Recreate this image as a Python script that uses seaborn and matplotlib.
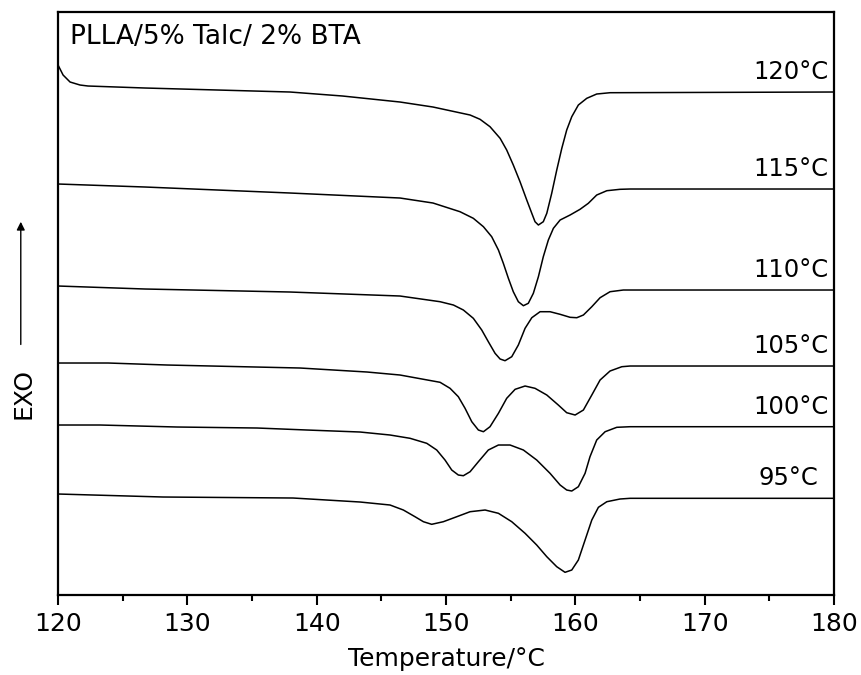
import numpy as np
import pandas as pd
import seaborn as sns
import matplotlib.pyplot as plt
from matplotlib.ticker import MultipleLocator

# DSC melting curves (arbitrary heat flow units, curves stacked)
labels = ['120°C', '115°C', '110°C', '105°C', '100°C', '95°C']

t_120 = [120.0, 120.39, 120.93, 121.70, 122.32, 126.73, 137.94, 142.0, 146.44, 148.99,
         151.86, 152.63, 153.40, 154.18, 154.69, 155.20, 155.72, 156.24, 156.63, 156.88,
         157.14, 157.52, 157.79, 158.17, 158.56, 158.95, 159.33, 159.72, 160.23, 160.88,
         161.65, 162.68, 180.0]
s_120 = [53.0, 52.0, 51.3, 51.0, 50.9, 50.7, 50.3, 49.9, 49.3, 48.8,
         48.0, 47.57, 46.83, 45.67, 44.5, 43.0, 41.33, 39.5, 38.17, 37.33,
         37.0, 37.33, 38.17, 40.17, 42.5, 44.67, 46.5, 47.83, 49.0, 49.67,
         50.1, 50.23, 50.3]

t_115 = [120.0, 126.73, 137.94, 146.44, 148.99, 151.08, 152.11, 152.89, 153.53, 154.05,
         154.43, 154.82, 155.20, 155.59, 155.98, 156.36, 156.75, 157.14, 157.52, 157.91,
         158.30, 158.82, 159.59, 160.36, 161.00, 161.65, 162.43, 163.45, 164.23, 180.0]
s_115 = [41.1, 40.8, 40.2, 39.7, 39.2, 38.33, 37.67, 36.83, 35.83, 34.5,
         33.17, 31.67, 30.33, 29.33, 28.93, 29.17, 30.17, 31.83, 33.83, 35.5,
         36.67, 37.5, 38.0, 38.57, 39.17, 40.0, 40.43, 40.57, 40.6, 40.6]

t_110 = [120.0, 126.73, 137.94, 146.44, 149.54, 150.57, 151.34, 152.11, 152.76, 153.27,
         153.79, 154.18, 154.56, 155.08, 155.59, 156.11, 156.63, 157.27, 158.04, 158.82,
         159.59, 160.11, 160.62, 161.27, 161.91, 162.68, 163.71, 180.0]
s_110 = [30.9, 30.6, 30.3, 29.9, 29.33, 29.0, 28.5, 27.67, 26.5, 25.33,
         24.17, 23.6, 23.43, 23.83, 25.0, 26.67, 27.73, 28.33, 28.33, 28.07,
         27.77, 27.73, 28.0, 28.83, 29.73, 30.33, 30.5, 30.5]

t_105 = [120.0, 123.87, 128.43, 138.71, 143.89, 146.44, 149.54, 150.31, 150.95, 151.47,
         151.99, 152.50, 152.89, 153.40, 154.05, 154.69, 155.34, 156.11, 156.88, 157.79,
         158.68, 159.33, 159.98, 160.62, 161.27, 161.91, 162.68, 163.59, 164.23, 180.0]
s_105 = [23.2, 23.2, 23.0, 22.7, 22.3, 22.0, 21.27, 20.67, 19.83, 18.67,
         17.33, 16.5, 16.33, 16.83, 18.17, 19.67, 20.57, 20.9, 20.67, 20.0,
         19.0, 18.23, 18.0, 18.5, 20.0, 21.5, 22.4, 22.83, 22.9, 22.9]

t_100 = [120.0, 123.25, 129.20, 135.39, 139.25, 143.35, 145.67, 147.22, 148.51, 149.28,
         149.92, 150.44, 150.95, 151.34, 151.86, 152.50, 153.27, 154.05, 154.95, 155.98,
         157.01, 158.04, 158.82, 159.33, 159.72, 160.23, 160.75, 161.13, 161.65, 162.30,
         163.20, 164.23, 180.0]
s_100 = [17.0, 17.0, 16.8, 16.7, 16.5, 16.3, 16.0, 15.67, 15.17, 14.5,
         13.5, 12.5, 12.0, 11.93, 12.33, 13.33, 14.5, 15.0, 15.0, 14.5,
         13.5, 12.17, 11.0, 10.5, 10.4, 10.83, 12.17, 13.83, 15.5, 16.33,
         16.77, 16.83, 16.83]

t_95 = [120.0, 128.12, 138.17, 143.35, 145.67, 146.70, 147.60, 148.25, 148.89, 149.79,
        150.83, 151.86, 153.02, 154.05, 155.08, 156.11, 157.01, 157.79, 158.56, 159.20,
        159.72, 160.23, 160.75, 161.27, 161.78, 162.43, 163.45, 164.23, 180.0]
s_95 = [10.1, 9.8, 9.7, 9.3, 9.0, 8.5, 7.83, 7.33, 7.07, 7.33,
        7.83, 8.33, 8.5, 8.17, 7.33, 6.17, 5.0, 3.83, 2.83, 2.27,
        2.5, 3.5, 5.5, 7.5, 8.77, 9.33, 9.6, 9.67, 9.67]

temps = [t_120, t_115, t_110, t_105, t_100, t_95]
signals = [s_120, s_115, s_110, s_105, s_100, s_95]

frames = []
for lab, t, s in zip(labels, temps, signals):
    frames.append(pd.DataFrame({'T': t, 'S': s, 'curve': lab}))
df = pd.concat(frames, ignore_index=True)

sns.set_style('ticks')
plt.rcParams['font.family'] = ['DejaVu Sans']
plt.rcParams['text.color'] = 'black'
plt.rcParams['xtick.color'] = 'black'
plt.rcParams['axes.labelcolor'] = 'black'

fig = plt.figure(figsize=(8.61, 6.75), dpi=100)
ax = fig.add_axes([0.0674, 0.1185, 0.9013, 0.8637])

sns.lineplot(data=df, x='T', y='S', hue='curve', units='curve', estimator=None,
             sort=False, palette=['black'] * len(labels), linewidth=1.1,
             legend=False, ax=ax)

# curve labels above the right-hand baselines
label_x = [179.6, 179.6, 179.6, 179.6, 179.6, 178.8]
for lab, s, lx in zip(labels, signals, label_x):
    ax.text(lx, s[-1] + 2.0, lab, ha='right', va='center', fontsize=17.5)

ax.text(0.0155, 0.957, 'PLLA/5% Talc/ 2% BTA', transform=ax.transAxes,
        ha='left', va='center', fontsize=19)

ax.set_xlim(120, 180)
ax.set_ylim(0, 58.3)
ax.xaxis.set_major_locator(MultipleLocator(10))
ax.xaxis.set_minor_locator(MultipleLocator(5))
ax.set_yticks([])
ax.tick_params(axis='x', which='major', direction='out', length=7.5, width=1.5,
               labelsize=18, pad=5)
ax.tick_params(axis='x', which='minor', direction='out', length=4.5, width=1.5)
for sp in ax.spines.values():
    sp.set_visible(True)
    sp.set_linewidth(1.6)
    sp.set_color('black')

ax.set_xlabel('Temperature/°C', fontsize=18, labelpad=8)
ax.set_ylabel('')
ax.text(-0.045, 0.345, 'EXO', transform=ax.transAxes, rotation=90,
        ha='center', va='center', fontsize=18)
ax.annotate('', xy=(-0.048, 0.645), xytext=(-0.048, 0.425),
            xycoords='axes fraction', textcoords='axes fraction',
            arrowprops=dict(arrowstyle='-|>', color='black', lw=1.0,
                            mutation_scale=12), annotation_clip=False)

fig.savefig('out.png', dpi=100)
